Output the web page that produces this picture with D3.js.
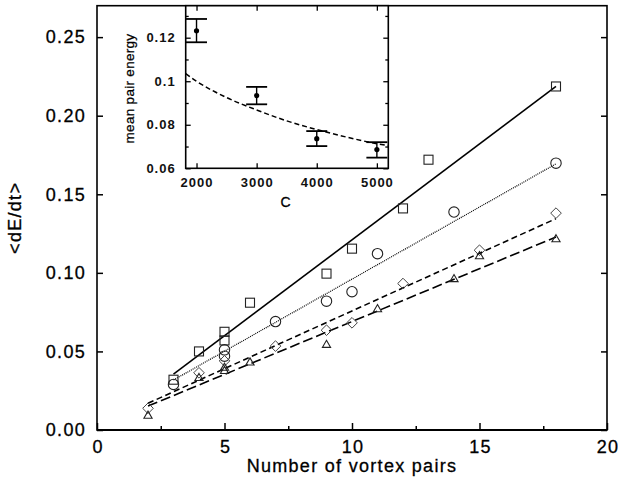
<!DOCTYPE html>
<html>
<head>
<meta charset="utf-8">
<script src="https://cdn.jsdelivr.net/npm/d3@7"></script>
<style>
  body { margin: 0; background: #fff; }
  svg text { font-family: "Liberation Sans", Arial, Helvetica, sans-serif; fill: #000; }
</style>
</head>
<body>
<div id="container"></div>
<script>
// main panel: <dE/dt> vs number of vortex pairs
const squareN = [3, 4, 5, 5, 6, 9, 10, 12, 13, 18];
const squareE = [0.032, 0.050, 0.0625, 0.057, 0.081, 0.0995, 0.1154, 0.141, 0.172, 0.2186];
const circleN = [3, 5, 5, 7, 9, 10, 11, 14, 18];
const circleE = [0.029, 0.051, 0.047, 0.069, 0.082, 0.088, 0.1122, 0.1387, 0.1698];
const diamondN = [2, 4, 5, 7, 9, 10, 12, 15, 18];
const diamondE = [0.0138, 0.0364, 0.044, 0.0534, 0.0635, 0.0682, 0.0932, 0.1144, 0.138];
const triangleN = [2, 4, 5, 5, 6, 9, 11, 14, 15, 18];
const triangleE = [0.0095, 0.0335, 0.040, 0.038, 0.0434, 0.0546, 0.0773, 0.0964, 0.111, 0.1218];

// fitted lines (end points)
const solidFitN = [3, 18], solidFitE = [0.0356, 0.2186];
const dottedFitN = [3, 18], dottedFitE = [0.0318, 0.1694];
const shortFitN = [2, 18], shortFitE = [0.017, 0.1345];
const longFitN = [2, 18], longFitE = [0.0152, 0.1228];

const xTicks = [0, 5, 10, 15, 20];
const xMinor = [2.5, 7.5, 12.5, 17.5];
const yTicks = [0, 0.05, 0.10, 0.15, 0.20, 0.25];

// inset: mean pair energy vs C
const insetC = [2000, 3000, 4000, 5000];
const insetE = [0.1232, 0.0934, 0.0736, 0.0686];
const insetHi = [0.1286, 0.0974, 0.0771, 0.0720];
const insetLo = [0.1179, 0.0894, 0.0702, 0.0649];
const curveC = [1820, 2000, 2500, 3000, 3500, 4000, 4500, 5000, 5190];
const curveE = [0.1035, 0.1000, 0.0925, 0.0868, 0.0818, 0.0778, 0.0743, 0.0713, 0.0704];
const insetXTicks = [2000, 3000, 4000, 5000];
const insetYTicks = [0.06, 0.08, 0.1, 0.12];
const insetYMinor = [0.07, 0.09, 0.11, 0.13];

const width = 618, height = 491;
const svg = d3.select("#container").append("svg")
  .attr("width", width).attr("height", height);

const pLeft = 97, pRight = 607, pTop = 5.7, pBottom = 430;
const x = d3.scaleLinear().domain([0, 20]).range([pLeft, pRight]);
const y = d3.scaleLinear().domain([0, 0.27]).range([pBottom, pTop]);

// wide, heavy-ish lettering like the original
const bigText = sel => sel
  .style("font-size", "18px")
  .style("letter-spacing", "1.3px")
  .style("fill", "#000")
  .style("stroke", "#000")
  .style("stroke-width", "0.3px");

// ticks
const gx = svg.append("g").attr("transform", `translate(0,${pBottom})`)
  .call(d3.axisBottom(x).tickValues(xTicks).tickSize(-7).tickPadding(10).tickFormat(d3.format("d")));
gx.append("g").call(d3.axisBottom(x).tickValues(xMinor).tickSize(-4).tickFormat(""));

const gy = svg.append("g").attr("transform", `translate(${pLeft},0)`)
  .call(d3.axisLeft(y).tickValues(yTicks).tickSize(-6).tickPadding(11).tickFormat(d3.format(".2f")));
const gyr = svg.append("g").attr("transform", `translate(${pRight},0)`)
  .call(d3.axisRight(y).tickValues(yTicks).tickSize(-6).tickFormat(""));

[gx, gy, gyr].forEach(g => {
  g.selectAll(".domain").remove();
  g.selectAll("line").attr("stroke", "#000").attr("stroke-width", 1.5);
  g.selectAll("text").attr("font-family", null).call(bigText);
});
gx.selectAll("text").attr("dx", "0.6px");

// frame
svg.append("rect")
  .attr("x", pLeft).attr("y", pTop)
  .attr("width", pRight - pLeft).attr("height", pBottom - pTop)
  .attr("fill", "none").attr("stroke", "#000").attr("stroke-width", 1.6);
svg.append("line")
  .attr("x1", pLeft).attr("x2", pRight).attr("y1", pBottom).attr("y2", pBottom)
  .attr("stroke", "#000").attr("stroke-width", 2.2);

// axis titles
svg.append("text")
  .attr("x", (pLeft + pRight) / 2).attr("y", 472)
  .attr("text-anchor", "middle")
  .call(bigText)
  .text("Number of vortex pairs");

svg.append("text")
  .attr("transform", `translate(21,${(pTop + pBottom) / 2}) rotate(-90)`)
  .attr("text-anchor", "middle")
  .call(bigText)
  .text("<dE/dt>");

// fit lines
const fits = [
  { n: solidFitN, e: solidFitE, dash: null },
  { n: dottedFitN, e: dottedFitE, dash: "1,1" },
  { n: shortFitN, e: shortFitE, dash: "6,3.5" },
  { n: longFitN, e: longFitE, dash: "10,4" }
];
const fitLine = d3.line().x(d => x(d[0])).y(d => y(d[1]));
fits.forEach(f => {
  svg.append("path")
    .datum(d3.zip(f.n, f.e))
    .attr("fill", "none")
    .attr("stroke", "#000")
    .attr("stroke-width", f.dash === "1,1" ? 1.2 : 1.6)
    .attr("stroke-dasharray", f.dash)
    .attr("d", fitLine);
});

// markers
const markStroke = "#222";
svg.append("g").selectAll("rect")
  .data(d3.zip(squareN, squareE)).join("rect")
  .attr("x", d => x(d[0]) - 4.5).attr("y", d => y(d[1]) - 4.5)
  .attr("width", 9).attr("height", 9)
  .attr("fill", "none").attr("stroke", markStroke).attr("stroke-width", 1.1);

svg.append("g").selectAll("circle")
  .data(d3.zip(circleN, circleE)).join("circle")
  .attr("cx", d => x(d[0])).attr("cy", d => y(d[1])).attr("r", 5.2)
  .attr("fill", "none").attr("stroke", markStroke).attr("stroke-width", 1.1);

const diamond = d3.symbol().type(d3.symbolDiamond2).size(72);
svg.append("g").selectAll("path")
  .data(d3.zip(diamondN, diamondE)).join("path")
  .attr("transform", d => `translate(${x(d[0])},${y(d[1])})`)
  .attr("d", diamond)
  .attr("fill", "none").attr("stroke", "#444").attr("stroke-width", 1);

const tri = d3.symbol().type(d3.symbolTriangle2).size(48);
svg.append("g").selectAll("path")
  .data(d3.zip(triangleN, triangleE)).join("path")
  .attr("transform", d => `translate(${x(d[0])},${y(d[1]) + 0.8})`)
  .attr("d", tri)
  .attr("fill", "none").attr("stroke", markStroke).attr("stroke-width", 1.1);

// ---- inset ----
const iLeft = 185.7, iRight = 388.3, iTop = pTop, iBottom = 168.3;
const ix = d3.scaleLinear().domain([1820, 5190]).range([iLeft, iRight]);
const iy = d3.scaleLinear().domain([0.06, 0.1347]).range([iBottom, iTop]);

const inset = svg.append("g");
inset.append("rect")
  .attr("x", iLeft).attr("y", iTop)
  .attr("width", iRight - iLeft).attr("height", iBottom - iTop)
  .attr("fill", "#fff");

const ib = inset.append("g").attr("transform", `translate(0,${iBottom})`)
  .call(d3.axisBottom(ix).tickValues(insetXTicks).tickSize(-5).tickPadding(9).tickFormat(d3.format("d")));
const it = inset.append("g").attr("transform", `translate(0,${iTop})`)
  .call(d3.axisTop(ix).tickValues(insetXTicks).tickSize(-5).tickFormat(""));
const il = inset.append("g").attr("transform", `translate(${iLeft},0)`)
  .call(d3.axisLeft(iy).tickValues(insetYTicks).tickSize(-5).tickPadding(10)
    .tickFormat(d => d === 0.1 ? "0.1" : d3.format(".2f")(d)));
il.append("g").call(d3.axisLeft(iy).tickValues(insetYMinor).tickSize(-3).tickFormat(""));
const ir = inset.append("g").attr("transform", `translate(${iRight},0)`)
  .call(d3.axisRight(iy).tickValues(insetYTicks).tickSize(-5).tickFormat(""));
ir.append("g").call(d3.axisRight(iy).tickValues(insetYMinor).tickSize(-3).tickFormat(""));

[ib, it, il, ir].forEach(g => {
  g.selectAll(".domain").remove();
  g.selectAll("line").attr("stroke", "#000").attr("stroke-width", 1.3);
  g.selectAll("text").style("font-size", "13px").style("letter-spacing", "1px")
    .style("font-weight", "bold").attr("font-family", null).style("fill", "#111");
});

inset.append("rect")
  .attr("x", iLeft).attr("y", iTop)
  .attr("width", iRight - iLeft).attr("height", iBottom - iTop)
  .attr("fill", "none").attr("stroke", "#000").attr("stroke-width", 1.6);

inset.append("text")
  .attr("x", (iLeft + iRight) / 2 - 1).attr("y", 207)
  .attr("text-anchor", "middle")
  .style("font-size", "14px").style("letter-spacing", "1px")
  .style("stroke", "#000").style("stroke-width", "0.3px")
  .text("C");

inset.append("text")
  .attr("transform", `translate(134,88.5) rotate(-90)`)
  .attr("text-anchor", "middle")
  .style("font-size", "13.5px").style("letter-spacing", "0.3px")
  .style("stroke", "#000").style("stroke-width", "0.25px")
  .text("mean pair energy");

// dashed curve
inset.append("path")
  .datum(d3.zip(curveC, curveE))
  .attr("fill", "none").attr("stroke", "#000").attr("stroke-width", 1.5)
  .attr("stroke-dasharray", "5,3")
  .attr("d", d3.line().x(d => ix(d[0])).y(d => iy(d[1])).curve(d3.curveMonotoneX));

// error bars
const pts = insetC.map((c, i) => ({ c, e: insetE[i], hi: insetHi[i], lo: insetLo[i] }));
const eb = inset.append("g").selectAll("g").data(pts).join("g");
eb.append("line")
  .attr("x1", d => ix(d.c)).attr("x2", d => ix(d.c))
  .attr("y1", d => iy(d.hi)).attr("y2", d => iy(d.lo))
  .attr("stroke", "#000").attr("stroke-width", 1.4);
eb.append("line")
  .attr("x1", d => ix(d.c) - 10.5).attr("x2", d => ix(d.c) + 10.5)
  .attr("y1", d => iy(d.hi)).attr("y2", d => iy(d.hi))
  .attr("stroke", "#000").attr("stroke-width", 1.8);
eb.append("line")
  .attr("x1", d => ix(d.c) - 10.5).attr("x2", d => ix(d.c) + 10.5)
  .attr("y1", d => iy(d.lo)).attr("y2", d => iy(d.lo))
  .attr("stroke", "#000").attr("stroke-width", 1.8);
eb.append("circle")
  .attr("cx", d => ix(d.c)).attr("cy", d => iy(d.e)).attr("r", 2.6)
  .attr("fill", "#000");
</script>
</body>
</html>
